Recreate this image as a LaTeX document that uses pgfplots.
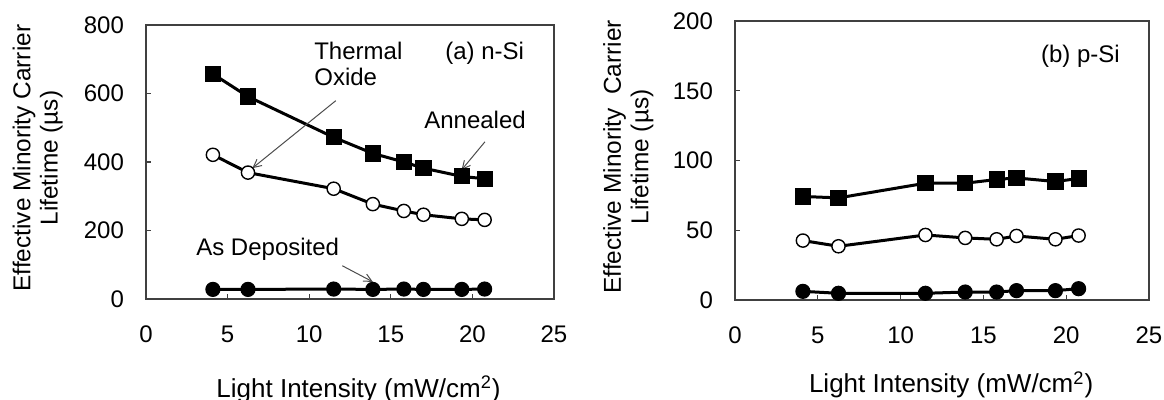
\documentclass[border=0pt]{standalone}
\usepackage{fontspec}
\setmainfont{Liberation Sans}
\usepackage{pgfplots}
\pgfplotsset{compat=1.18}
\usetikzlibrary{arrows.meta}
\tikzset{arr/.style={-{Straight Barb[length=4pt,width=4pt]}, black!70, line width=0.5pt}}
\begin{document}
\begin{tikzpicture}
\useasboundingbox (0,0) rectangle (582pt,200pt);
\pgfplotsset{
 panel/.style={
  scale only axis, anchor=south west,
  xmin=0, xmax=25, ymin=0, xtick={0,5,...,25},
  xtick pos=bottom, ytick pos=left, tick align=inside,
  major tick length=2.5pt,
  tick style={black!75, line width=0.6pt},
  axis line style={black!75, line width=0.6pt},
  font=\fontsize{12}{13.5}\selectfont,
  /pgf/number format/assume math mode=true,
  xticklabel shift=10pt,
  yticklabel style={xshift=-7.5pt},
  ylabel style={rotate=0, anchor=south, inner sep=0pt, align=center, font=\fontsize{12.2}{13.7}\selectfont},
  xlabel style={anchor=base, inner sep=0pt, font=\fontsize{13}{14}\selectfont},
 },
 ann/.style={black, line width=1.5pt, mark options={solid, black, line width=0.6pt}},
 sq/.style={ann, mark=square*, mark size=3.75pt},
 oc/.style={ann, mark=*, mark options={solid, draw=black, fill=white, line width=0.7pt}, mark size=3.3pt},
 fc/.style={ann, mark=*, mark size=3.5pt},
}
% ---------- (a) n-Si ----------
\begin{axis}[panel, at={(73pt,50.5pt)}, width=204pt, height=137pt,
  ymax=800, ytick={0,200,...,800},
  xlabel={Light Intensity (mW/cm\textsuperscript{2})},
  xlabel style={at={(axis description cs:0.521,-0.358)}},
  ylabel={Effective Minority Carrier\\Lifetime (µs)},
  ylabel style={at={(axis description cs:-0.203,0.514)}},
]
\addplot[sq] coordinates {(4.1,657)(6.25,591)(11.5,472)(13.9,425)(15.8,400)(17.0,382)(19.35,358)(20.75,351)};
\addplot[oc] coordinates {(4.1,421)(6.25,369)(11.5,322)(13.9,277)(15.8,257)(17.0,246)(19.35,234)(20.75,231)};
\addplot[fc] coordinates {(4.1,28)(6.25,28)(11.5,29)(13.9,28)(15.8,29)(17.0,28)(19.35,28)(20.75,29)};
\node[anchor=base west, inner sep=0pt] at (axis cs:10.29,698) {Thermal};
\node[anchor=base west, inner sep=0pt] at (axis cs:10.29,622) {Oxide};
\node[anchor=base west, inner sep=0pt] at (axis cs:18.32,698) {(a) n-Si};
\node[anchor=base west, inner sep=0pt] at (axis cs:17.03,499) {Annealed};
\node[anchor=base west, inner sep=0pt] at (axis cs:3.06,128) {As Deposited};
\draw[arr] (axis cs:11.63,579) -- (axis cs:6.52,382);
\draw[arr] (axis cs:20.77,459) -- (axis cs:19.34,377);
\draw[arr] (axis cs:12.03,97) -- (axis cs:13.9,50);
\end{axis}
% ---------- (b) p-Si ----------
\begin{axis}[panel, at={(367.5pt,50pt)}, width=207pt, height=139.5pt,
  ymax=200, ytick={0,50,...,200},
  xlabel={Light Intensity (mW/cm\textsuperscript{2})},
  xlabel style={at={(axis description cs:0.522,-0.333)}},
  ylabel={Effective Minority\ \ Carrier\\Lifetime (µs)},
  ylabel style={at={(axis description cs:-0.196,0.513)}},
]
\addplot[sq] coordinates {(4.1,74.2)(6.25,73.2)(11.5,83.7)(13.9,83.7)(15.8,86.4)(17.0,87.5)(19.35,84.9)(20.75,87.1)};
\addplot[oc] coordinates {(4.1,42.6)(6.25,38.5)(11.5,46.6)(13.9,44.5)(15.8,43.5)(17.0,45.9)(19.35,43.5)(20.75,46.2)};
\addplot[fc] coordinates {(4.1,6.2)(6.25,4.8)(11.5,4.8)(13.9,5.7)(15.8,5.7)(17.0,6.7)(19.35,6.7)(20.75,8.1)};
\node[anchor=base west, inner sep=0pt] at (axis cs:18.46,170) {(b) p-Si};
\end{axis}
\end{tikzpicture}
\end{document}
